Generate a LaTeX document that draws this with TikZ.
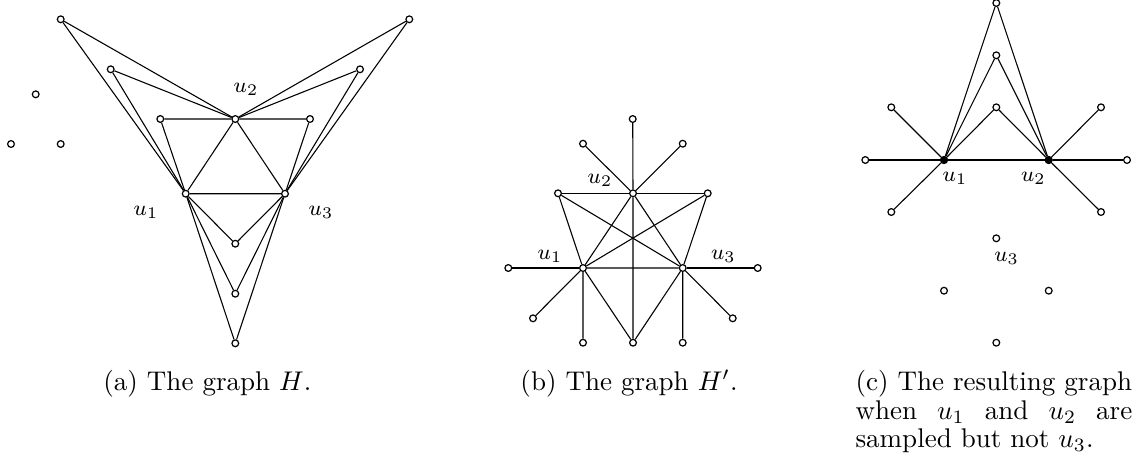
\documentclass[tikz,border=0pt]{standalone}
\begin{document}
\begin{tikzpicture}[x=0.37pt,y=-0.37pt,
  vtx/.style={circle,draw,fill=white,line width=0.45pt,inner sep=0pt,minimum size=2.5pt},
  bvtx/.style={circle,draw,fill=black,line width=0.45pt,inner sep=0pt,minimum size=2.6pt},
  edge/.style={line width=0.4pt},
  lbl/.style={inner sep=0pt,font=\fontsize{8.3}{10}\selectfont},
  capt/.style={inner sep=0pt,anchor=base}]
\useasboundingbox (0,0) rectangle (1136,463);
% ---------- (a) ----------
\node[vtx] (a1) at (185.7,193.7) {};
\node[vtx] (a2) at (235.3,119) {};
\node[vtx] (a3) at (285,193.7) {};
\node[vtx] (al1) at (160.3,119) {};
\node[vtx] (ar1) at (310,119) {};
\node[vtx] (al2) at (110.7,69.3) {};
\node[vtx] (ar2) at (360,69.3) {};
\node[vtx] (al3) at (60.7,19.3) {};
\node[vtx] (ar3) at (409.3,19.3) {};
\node[vtx] (ab1) at (235.3,243.7) {};
\node[vtx] (ab2) at (235.3,293.7) {};
\node[vtx] (ab3) at (235.3,343.3) {};
\node[vtx] (ai1) at (35.7,94.3) {};
\node[vtx] (ai2) at (11,144) {};
\node[vtx] (ai3) at (60.7,144) {};
\draw[edge] (a1) -- (a2) (a2) -- (a3) (a1) -- (a3);
\foreach \v in {al1,al2,al3} {\draw[edge] (\v) -- (a2) (\v) -- (a1);}
\foreach \v in {ar1,ar2,ar3} {\draw[edge] (\v) -- (a2) (\v) -- (a3);}
\foreach \v in {ab1,ab2,ab3} {\draw[edge] (\v) -- (a1) (\v) -- (a3);}
\node[lbl] (la2) at (246,89) {$u_2$};
\node[lbl] (la1) at (146,212.7) {$u_1$};
\node[lbl] (la3) at (321,212.7) {$u_3$};
% ---------- (b) ----------
\node[vtx] (b1) at (583,268) {};
\node[vtx] (b2) at (633,193.3) {};
\node[vtx] (b3) at (682.7,268) {};
\node[vtx] (btl) at (558,193.3) {};
\node[vtx] (btr) at (707.7,193.3) {};
\node[vtx] (bt) at (632.7,119) {};
\node[vtx] (blf1) at (583,143.7) {};
\node[vtx] (brf1) at (682.7,143.7) {};
\node[vtx] (bll) at (508.3,268) {};
\node[vtx] (brr) at (757.7,268) {};
\node[vtx] (bdl) at (533,318.3) {};
\node[vtx] (bdr) at (732.7,318.3) {};
\node[vtx] (bb1) at (583,342.7) {};
\node[vtx] (bbm) at (633,342.7) {};
\node[vtx] (bb3) at (682.7,342.7) {};
\draw[edge] (bt) -- (b2) (b2) -- (bbm);
\draw[edge] (blf1) -- (b2) (brf1) -- (b2);
\draw[edge] (btl) -- (b2) (b2) -- (btr);
\draw[edge] (btl) -- (b1) (btl) -- (b3) (btr) -- (b3) (btr) -- (b1);
\draw[edge] (b1) -- (b2) (b2) -- (b3) (b1) -- (b3);
\draw[edge] (bll) -- (b1) (b3) -- (brr);
\draw[edge] (b1) -- (bdl) (b1) -- (bb1) (b1) -- (bbm);
\draw[edge] (b3) -- (bdr) (b3) -- (bb3) (b3) -- (bbm);
\node[lbl] (lb2) at (600,180.7) {$u_2$};
\node[lbl] (lb1) at (550,256.7) {$u_1$};
\node[lbl] (lb3) at (723.3,256.7) {$u_3$};
% ---------- (c) ----------
\node[bvtx] (c1) at (944,160) {};
\node[bvtx] (c2) at (1048.7,160) {};
\node[vtx] (ct1) at (996.3,107.3) {};
\node[vtx] (ct2) at (996.3,55.3) {};
\node[vtx] (ct3) at (996.3,3) {};
\node[vtx] (cll) at (865.3,160) {};
\node[vtx] (crr) at (1127,160) {};
\node[vtx] (cul) at (891.3,107.3) {};
\node[vtx] (cur) at (1101,107.3) {};
\node[vtx] (cdl) at (891.3,212) {};
\node[vtx] (cdr) at (1101,212) {};
\node[vtx] (ci1) at (996.3,238.3) {};
\node[vtx] (ci2) at (944,290.7) {};
\node[vtx] (ci3) at (1048.7,290.7) {};
\node[vtx] (ci4) at (996.3,342.7) {};
\draw[edge] (c1) -- (c2) (cll) -- (c1) (c2) -- (crr);
\draw[edge] (c1) -- (cul) (c1) -- (cdl) (c2) -- (cur) (c2) -- (cdr);
\foreach \v in {ct1,ct2,ct3} {\draw[edge] (c1) -- (\v) -- (c2);}
\node[lbl] (lc1) at (955,178.3) {$u_1$};
\node[lbl] (lc2) at (1033.3,178.3) {$u_2$};
\node[lbl] (lc3) at (1006.7,258.3) {$u_3$};
% ---------- captions ----------
\node[capt] (capa) at (207.4,390) {(a) The graph $H$.};
\node[capt] (capb) at (629,390) {(b) The graph $H'$.};
\node[capt,anchor=base west] (capc1) at (855,390) {(c) The resulting graph};
\node[capt,anchor=base west] (capc2) at (855,419) {\makebox[102.4pt][s]{when\ \ $u_1$\ \ and\ \ $u_2$\ \ are}};
\node[capt,anchor=base west] (capc3) at (855,447.5) {sampled but not $u_3$.};
\end{tikzpicture}
\end{document}
